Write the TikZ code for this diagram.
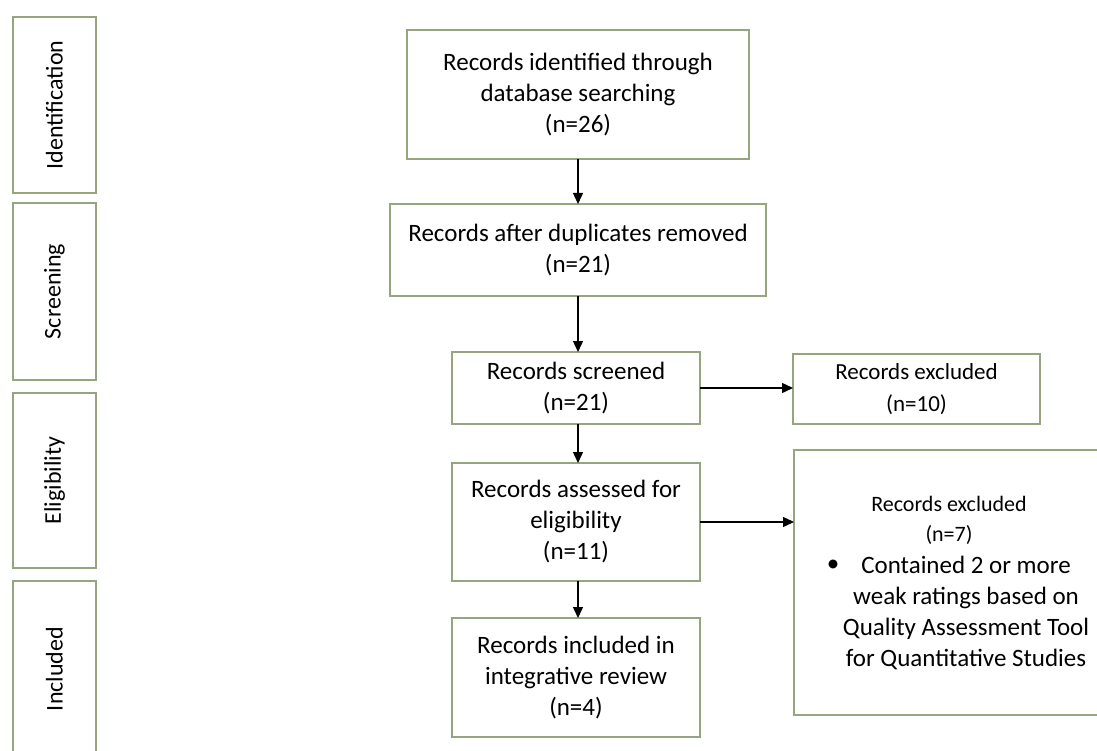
\documentclass[tikz,border=0pt]{standalone}
\usepackage{fontspec}
\setmainfont{Carlito}
\usetikzlibrary{arrows.meta}
\definecolor{boxgreen}{RGB}{150,165,125}
\newcommand{\mainfs}{\fontsize{25}{31}\selectfont}
\newcommand{\smallfs}{\fontsize{22}{30}\selectfont}
\newcommand{\stagefs}{\fontsize{24}{30}\selectfont}
\begin{document}
\begin{tikzpicture}[x=1pt,y=-1pt,
  box/.style={draw=boxgreen, line width=1.3pt, inner sep=0pt, outer sep=0pt, align=center, font=\mainfs, anchor=north west},
  stagebox/.style={draw=boxgreen, line width=1.3pt, inner sep=0pt, outer sep=0pt, align=center, font=\stagefs, rotate=90, minimum height=83},
  arr/.style={line width=1.4pt, -{Triangle[length=11pt,width=10pt]}}]
\clip (0,0) rectangle (1097,751);
\fill[white] (0,0) rectangle (1097,751);
% stage boxes
\node[stagebox, minimum width=176] (s1) at (54.5,105) {Identification};
\node[stagebox, minimum width=177] (s2) at (54.5,291.5) {Screening};
\node[stagebox, minimum width=175] (s3) at (54.5,480.5) {Eligibility};
\node[stagebox, minimum width=176] (s4) at (54.5,669) {Included};
% main flow
\node[box, minimum width=342, minimum height=129] (b1) at (407,30) {Records identified through\\database searching\\(n=26)};
\node[box, minimum width=376, minimum height=92] (b2) at (390,204) {Records after duplicates removed\\(n=21)};
\node[box, minimum width=248, minimum height=72] (b3) at (452,352) {Records screened\\(n=21)};
\node[box, minimum width=248, minimum height=118] (b4) at (452,463) {Records assessed for\\eligibility\\(n=11)};
\node[box, minimum width=248, minimum height=119] (b5) at (452,618) {Records included in\\integrative review\\(n=4)};
% exclusion boxes
\node[box, minimum width=247, minimum height=70, font=\fontsize{23}{32}\selectfont] (e1) at (793,354) {Records excluded\\(n=10)};
\node[box, minimum width=312, minimum height=265] (e2) at (794,450) {};
\node[font=\smallfs, align=center] (e2h) at (949,520) {Records excluded\\(n=7)};
\node[font=\mainfs] (e2b) at (833,566) {•};
\node[font=\mainfs, align=center] (e2t) at (966,613) {Contained 2 or more\\weak ratings based on\\Quality Assessment Tool\\for Quantitative Studies};
% arrows
\draw[arr] (b1.south -| 578,0) -- (b2.north -| 578,0);
\draw[arr] (b2.south -| 578,0) -- (b3.north -| 578,0);
\draw[arr] (b3.south -| 578,0) -- (b4.north -| 578,0);
\draw[arr] (b4.south -| 578,0) -- (b5.north -| 578,0);
\draw[arr] (b3.east) -- (b3.east -| e1.west);
\draw[arr] (b4.east) -- (b4.east -| e2.west);
\end{tikzpicture}
\end{document}
